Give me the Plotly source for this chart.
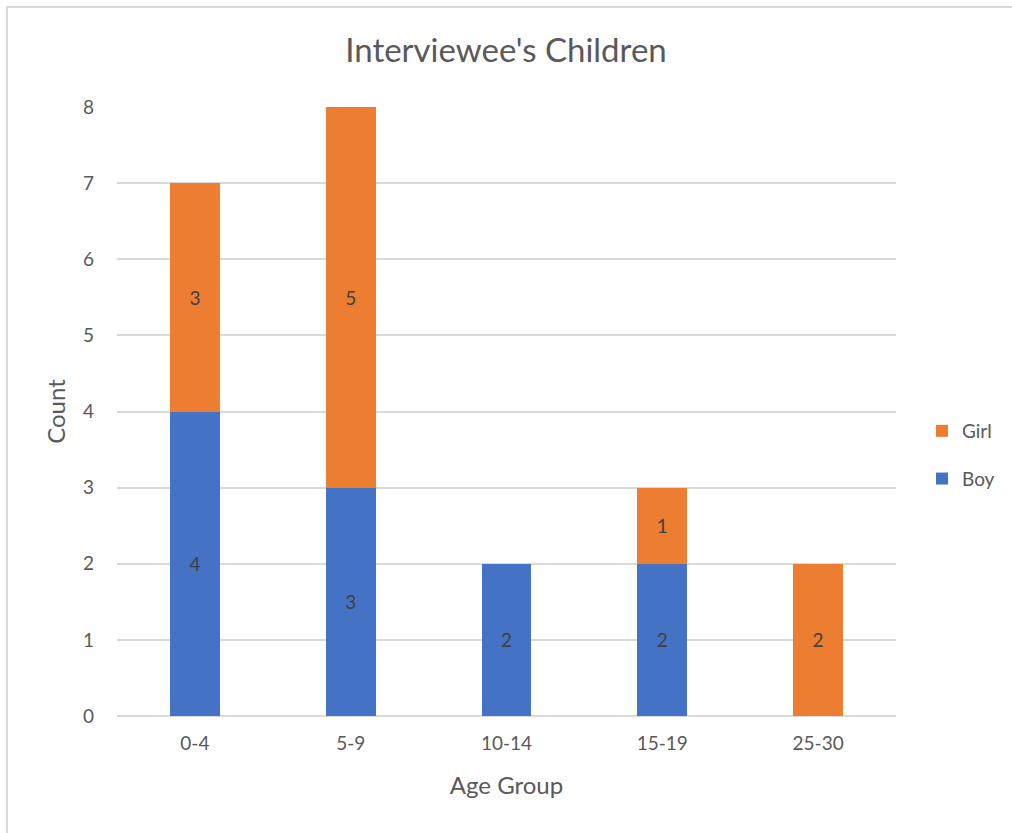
import plotly.graph_objects as go

# Children of interviewees, counted by age group and sex
age_groups = ["0-4", "5-9", "10-14", "15-19", "25-30"]
boys = [4, 3, 2, 2, 0]
girls = [3, 5, 0, 1, 2]

BLUE = "#4472C4"
ORANGE = "#ED7D31"
TEXT = "#595959"
FONT = "Lato, 'Open Sans', sans-serif"


def labels(values):
    return [str(v) if v else "" for v in values]


fig = go.Figure()
fig.add_trace(go.Bar(
    name="Boy", x=age_groups, y=boys, marker_color=BLUE,
    marker_line_width=0, legendgroup="boy", legendrank=2,
    text=labels(boys), textposition="inside", insidetextanchor="middle",
    textfont=dict(color="#404040", size=19, family=FONT),
))
fig.add_trace(go.Bar(
    name="Girl", x=age_groups, y=girls, marker_color=ORANGE,
    marker_line_width=0, legendgroup="girl", legendrank=1,
    text=labels(girls), textposition="inside", insidetextanchor="middle",
    textfont=dict(color="#404040", size=19, family=FONT),
))

# plot area spans pixel x 117..896 and y 107..716 on the 1012x833 canvas
L, R, T, B = 117, 116, 107, 117
W, H = 1012, 833
pw, ph = W - L - R, H - T - B


def px_to_paper_x(px):
    return (px - L) / pw


def px_to_paper_y(py):
    return (H - B - py) / ph


fig.update_layout(
    width=W, height=H,
    margin=dict(l=L, r=R, t=T, b=B),
    barmode="stack",
    bargap=0.68,
    plot_bgcolor="white",
    paper_bgcolor="white",
    font=dict(family=FONT, color=TEXT, size=19),
    uniformtext=dict(mode="show", minsize=10),
    title=dict(
        text="Interviewee's Children",
        x=0.5, xanchor="center",
        y=1 - 50 / H, yanchor="middle",
        yref="container",
        font=dict(size=33, color=TEXT, family=FONT),
    ),
    xaxis=dict(
        title=dict(text="Age Group", font=dict(size=24, color=TEXT), standoff=24),
        showgrid=False, showline=False, zeroline=False,
        ticks="", ticklabelstandoff=14,
        tickfont=dict(size=19, color=TEXT),
    ),
    yaxis=dict(
        title=dict(text="Count", font=dict(size=24, color=TEXT), standoff=10),
        range=[0, 8], dtick=1,
        showgrid=True, gridcolor="#D9D9D9", gridwidth=2,
        zeroline=True, zerolinecolor="#D9D9D9", zerolinewidth=2,
        ticks="", ticklabelstandoff=22,
        tickfont=dict(size=19, color=TEXT),
    ),
    legend=dict(
        x=px_to_paper_x(922), xanchor="left",
        y=px_to_paper_y(455), yanchor="middle",
        traceorder="grouped",
        font=dict(size=19, color=TEXT),
        itemwidth=30,
        tracegroupgap=20,
        bgcolor="rgba(0,0,0,0)",
    ),
    shapes=[dict(
        type="rect", xref="paper", yref="paper",
        x0=px_to_paper_x(7), x1=px_to_paper_x(1030),
        y0=px_to_paper_y(850), y1=px_to_paper_y(7),
        line=dict(color="#D9D9D9", width=2),
        fillcolor="rgba(0,0,0,0)", layer="below",
    )],
)

fig.write_html("out.html")
